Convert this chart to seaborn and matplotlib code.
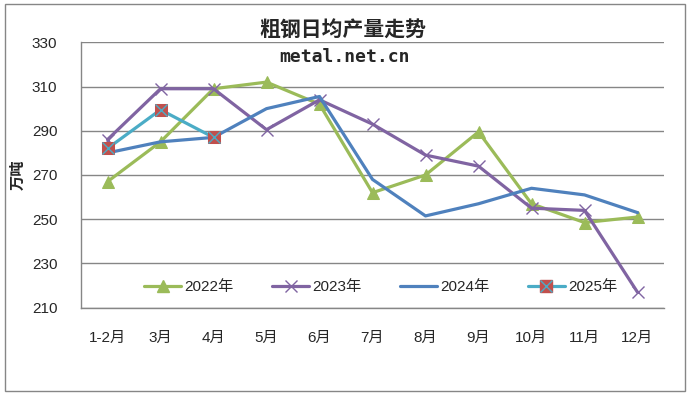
import matplotlib
matplotlib.use("Agg")
import matplotlib.pyplot as plt
import seaborn as sns
import numpy as np
from matplotlib.patches import Rectangle
from matplotlib.lines import Line2D
from matplotlib.legend_handler import HandlerTuple

months = ["1-2月", "3月", "4月", "5月", "6月", "7月", "8月", "9月", "10月", "11月", "12月"]
y2022 = [267, 285, 309, 312, 302, 262, 270, 289.5, 257, 248.5, 251]
y2023 = [286, 309, 309, 290.5, 304, 293, 279, 274, 255, 254, 217]
y2024 = [280, 285, 287, 300, 305.5, 268, 251.5, 257, 264, 261, 253]
y2025 = [282, 299.5, 287]
labels = ["2022年", "2023年", "2024年", "2025年"]
yticks = [210, 230, 250, 270, 290, 310, 330]

sns.set_style("white")
FAM = ["Liberation Sans", "Noto Sans CJK SC", "DejaVu Sans"]
plt.rcParams["font.family"] = FAM

fig = plt.figure(figsize=(6.9, 3.95), dpi=100)
ax = fig.add_axes([81/690, 1-307.7/395, (664-81)/690, (307.7-42.3)/395])

x = np.arange(len(months))
lw = 2.3
c22, c23, c24, c25, cred = "#9BBB59", "#8064A2", "#4F81BD", "#4BACC6", "#C0504D"

sns.lineplot(x=x, y=y2022, ax=ax, color=c22, lw=lw, marker="^", markersize=8,
             markeredgecolor=c22, markerfacecolor=c22, zorder=3)
sns.lineplot(x=x, y=y2023, ax=ax, color=c23, lw=lw, marker="x", markersize=9,
             markeredgewidth=1.0, markeredgecolor=c23, zorder=3)
sns.lineplot(x=x, y=y2024, ax=ax, color=c24, lw=lw, zorder=4)
x25 = x[:len(y2025)]
sns.lineplot(x=x25, y=y2025, ax=ax, color=c25, lw=lw, marker="s", markersize=9,
             markeredgecolor=cred, markerfacecolor=cred, zorder=5)
ax.plot(x25, y2025, ls="none", marker="x", markersize=8, markeredgewidth=1.0,
        color=c25, zorder=6)

ax.set_xlim(-0.5, len(months) - 0.5)
ax.set_ylim(210, 330)
ax.set_yticks(yticks)
ax.set_yticklabels([str(v) for v in yticks], fontsize=11)
ax.set_xticks(x)
ax.set_xticklabels(months, fontsize=11)
ax.tick_params(axis="y", length=0, pad=17)
ax.tick_params(axis="x", length=0, pad=17)
ax.yaxis.grid(True, color="#868686", lw=1.0)
ax.set_axisbelow(True)
for s in ["top", "right"]:
    ax.spines[s].set_visible(False)
for s in ["left", "bottom"]:
    ax.spines[s].set_color("#868686")
    ax.spines[s].set_linewidth(1.0)
ax.set_ylabel("")

fig.text(18/690, 1-175/395, "万吨", ha="center", va="center", rotation=90,
         fontsize=11, fontweight="bold", family=["Noto Sans CJK SC", "DejaVu Sans"])

fig.text(343/690, 1-30/395, "粗钢日均产量走势", ha="center", va="center",
         fontsize=15, fontweight="bold", family=["Noto Sans CJK SC", "DejaVu Sans"])
fig.text(345/690, 1-57/395, "metal.net.cn", ha="center", va="center",
         fontsize=13, fontweight="bold", family=["DejaVu Sans Mono"])

h22 = Line2D([], [], color=c22, lw=lw, marker="^", markersize=8)
h23 = Line2D([], [], color=c23, lw=lw, marker="x", markersize=9, markeredgewidth=1.0)
h24 = Line2D([], [], color=c24, lw=lw)
h25a = Line2D([], [], color=c25, lw=lw, marker="s", markersize=9,
              markeredgecolor=cred, markerfacecolor=cred)
h25b = Line2D([], [], ls="none", marker="x", markersize=8, markeredgewidth=1.0, color=c25)
ax.legend([h22, h23, h24, (h25a, h25b)], labels, loc="center",
          bbox_to_anchor=(381/690, 1-287/395), bbox_transform=fig.transFigure,
          ncol=4, frameon=False, fontsize=11, handlelength=2.4, handletextpad=0.25,
          columnspacing=2.5, handler_map={tuple: HandlerTuple(ndivide=1, pad=0)})

fig.patches.append(Rectangle((5/690, 4/395), 680/690, 387/395, transform=fig.transFigure,
                             fill=False, edgecolor="#868686", lw=1.0))

fig.savefig("out.png", dpi=100)
